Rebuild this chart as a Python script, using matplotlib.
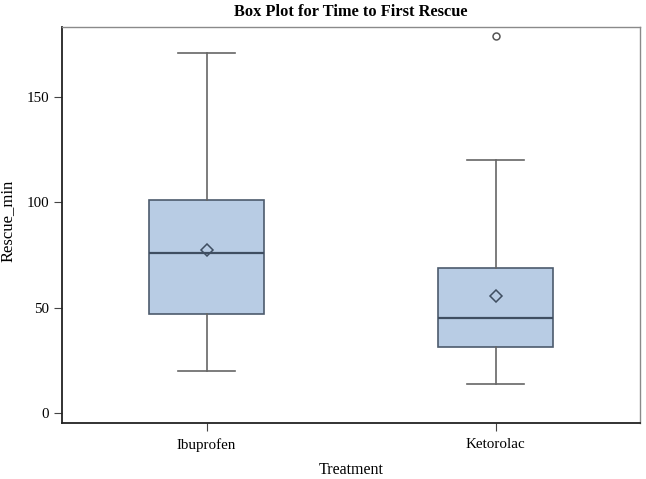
import matplotlib
matplotlib.use("Agg")
import matplotlib.pyplot as plt

# values
treatments = ["Ibuprofen", "Ketorolac"]
whisker_low = [20, 14]
q1 = [47, 31.5]
median = [76, 45]
q3 = [101, 69]
whisker_high = [171, 120]
means = [77.5, 55.5]
outliers = [[], [179]]

plt.rcParams["font.family"] = ["Liberation Serif", "DejaVu Serif"]

stats = []
for i, name in enumerate(treatments):
    stats.append({
        "label": name,
        "whislo": whisker_low[i],
        "q1": q1[i],
        "med": median[i],
        "q3": q3[i],
        "whishi": whisker_high[i],
        "mean": means[i],
        "fliers": outliers[i],
    })

fig = plt.figure(figsize=(6.46, 4.79), dpi=100)
ax = fig.add_axes([62 / 646, 1 - 423 / 479, 578 / 646, 396 / 479])

edge = "#4d5b6d"
ax.bxp(stats, positions=[1, 2], widths=0.4, showmeans=True, patch_artist=True,
       boxprops=dict(facecolor="#b8cce4", edgecolor=edge, linewidth=1.2),
       medianprops=dict(color="#3f4e61", linewidth=1.6),
       whiskerprops=dict(color="#666666", linewidth=1.2),
       capprops=dict(color="#666666", linewidth=1.2),
       capwidths=0.2,
       meanprops=dict(marker="D", markerfacecolor="none", markeredgecolor="#3f4e61",
                      markersize=6, markeredgewidth=1.1),
       flierprops=dict(marker="o", markerfacecolor="none", markeredgecolor="#555555",
                       markersize=5, markeredgewidth=1.1))

ax.set_xlim(0.5, 2.5)
ax.set_ylim(-4.7, 183.2)
ax.set_yticks([0, 50, 100, 150])
ax.set_xticks([1, 2])
ax.set_xticklabels(treatments)
ax.tick_params(labelsize=10.8, color="#444444", length=6)
ax.tick_params(axis="x", pad=5)

for side in ["top", "right"]:
    ax.spines[side].set_color("#8a8a8a")
    ax.spines[side].set_linewidth(1.0)
for side in ["left", "bottom"]:
    ax.spines[side].set_color("#222222")
    ax.spines[side].set_linewidth(1.3)

ax.set_xlabel("Treatment", fontsize=11.5)
ax.xaxis.set_label_coords(0.5, -0.098)
ax.set_ylabel("Rescue_min", fontsize=12)
ax.yaxis.set_label_coords(-0.08, 0.51)
ax.set_title("Box Plot for Time to First Rescue", fontsize=11.8, fontweight="bold", pad=8)

fig.savefig("out.png", dpi=100)
